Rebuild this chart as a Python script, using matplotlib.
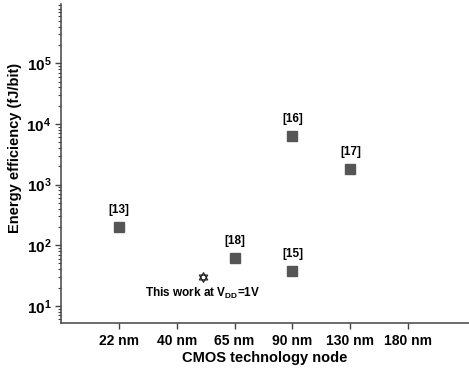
import matplotlib.pyplot as plt
import numpy as np
from matplotlib.path import Path
from matplotlib.ticker import FixedLocator, LogLocator, NullFormatter, FuncFormatter

plt.rcParams['font.family'] = ['Liberation Sans', 'DejaVu Sans']
plt.rcParams['font.weight'] = 'bold'
plt.rcParams['mathtext.fontset'] = 'custom'
plt.rcParams['mathtext.rm'] = 'Liberation Sans:bold'
plt.rcParams['mathtext.bf'] = 'Liberation Sans:bold'

# data
nodes = ["22 nm", "40 nm", "65 nm", "90 nm", "130 nm", "180 nm"]
ref_labels = ["[13]", "[18]", "[15]", "[16]", "[17]"]
ref_pos = [1, 3, 4, 4, 5]
ref_energy = [200, 61, 38, 6400, 1830]
this_pos = 2.45
this_energy = 30.5
this_label = r"This work at V$_{\mathbf{DD}}$=1V"

fig = plt.figure(figsize=(4.69, 3.68), dpi=100)
ax = fig.add_axes([0.130, 0.122, 0.870, 0.867])

ax.set_yscale('log')
ax.set_ylim(5.2, 9.5e5)
ax.set_xlim(0, 7.05)

spine_c = '#444444'
for s in ['top', 'right']:
    ax.spines[s].set_visible(False)
for s in ['left', 'bottom']:
    ax.spines[s].set_color(spine_c)
    ax.spines[s].set_linewidth(1.1)

# reference works
ax.plot(ref_pos, ref_energy, linestyle='none', marker='s', markersize=7.2,
        color='#555555', markeredgecolor='#555555')
for x, y, lab in zip(ref_pos, ref_energy, ref_labels):
    ax.annotate(lab, (x, y), xytext=(0, 8), textcoords='offset points',
                ha='center', va='bottom', fontsize=8.5, fontweight='bold')

# this work: hexagram marker
ang1 = np.deg2rad([90, 210, 330, 90])
ang2 = np.deg2rad([270, 30, 150, 270])
verts = list(zip(np.cos(ang1), np.sin(ang1))) + list(zip(np.cos(ang2), np.sin(ang2)))
codes = [Path.MOVETO, Path.LINETO, Path.LINETO, Path.CLOSEPOLY] * 2
hexagram = Path(verts, codes)
ax.plot([this_pos], [this_energy], linestyle='none', marker=hexagram, markersize=7,
        markerfacecolor='white', markeredgecolor='#222222', markeredgewidth=0.8)
ax.annotate(this_label, (this_pos, this_energy), xytext=(0, -7),
            textcoords='offset points', ha='center', va='top', fontsize=8.5,
            fontweight='bold')

# axes ticks
ax.xaxis.set_major_locator(FixedLocator(range(1, len(nodes) + 1)))
ax.set_xticklabels(nodes)
ax.yaxis.set_major_locator(LogLocator(base=10, numticks=10))
ax.yaxis.set_minor_locator(LogLocator(base=10, subs=np.arange(2, 10), numticks=10))
ax.yaxis.set_minor_formatter(NullFormatter())
ax.yaxis.set_major_formatter(FuncFormatter(
    lambda v, p: r"$\mathbf{10^{%d}}$" % round(np.log10(v))))
ax.tick_params(axis='both', which='major', length=4, width=1.0, color=spine_c,
               labelsize=10, pad=4)
ax.tick_params(axis='y', which='major', labelsize=11, pad=3)
ax.tick_params(axis='y', which='minor', length=2.5, width=0.8, color=spine_c)
for t in ax.get_xticklabels():
    t.set_fontweight('bold')

ax.set_xlabel("CMOS technology node", fontsize=10.5, fontweight='bold', labelpad=2)
ax.set_ylabel("Energy efficiency (fJ/bit)", fontsize=10.5, fontweight='bold')
ax.yaxis.set_label_coords(-0.096, 0.55)

fig.savefig("out.png", dpi=100)
